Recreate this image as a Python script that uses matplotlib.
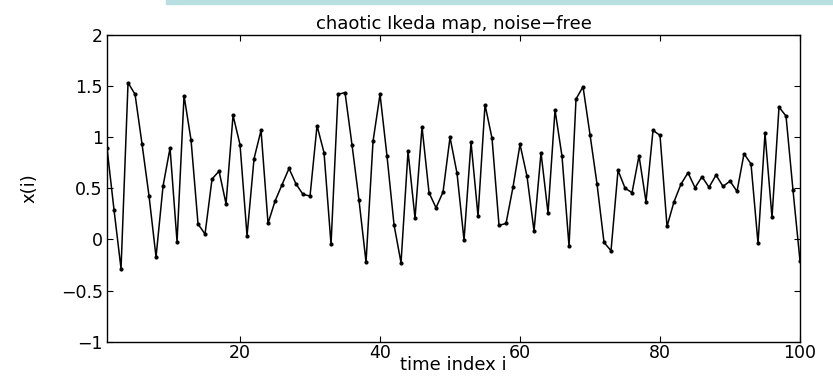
import matplotlib
matplotlib.use("Agg")
import matplotlib.pyplot as plt
from matplotlib.patches import Rectangle

plt.rcParams['font.family'] = ['DejaVu Sans']

# time index and Ikeda x-values
time_index = list(range(1, 101))
x_values = [
    0.891, 0.288, -0.286, 1.533, 1.420, 0.933, 0.425, -0.172, 0.522, 0.894,
    -0.022, 1.406, 0.973, 0.151, 0.053, 0.591, 0.669, 0.349, 1.214, 0.927,
    0.036, 0.790, 1.067, 0.157, 0.375, 0.536, 0.695, 0.542, 0.441, 0.425,
    1.113, 0.849, -0.048, 1.420, 1.436, 0.924, 0.382, -0.221, 0.960, 1.420,
    0.813, 0.144, -0.228, 0.862, 0.209, 1.100, 0.457, 0.310, 0.464, 0.999,
    0.647, -0.006, 0.950, 0.229, 1.318, 0.989, 0.138, 0.157, 0.513, 0.930,
    0.617, 0.082, 0.849, 0.258, 1.266, 0.813, -0.065, 1.374, 1.494, 1.025,
    0.542, -0.029, -0.110, 0.676, 0.503, 0.457, 0.819, 0.369, 1.067, 1.018,
    0.128, 0.369, 0.542, 0.653, 0.506, 0.614, 0.510, 0.630, 0.519, 0.571,
    0.470, 0.839, 0.738, -0.038, 1.038, 0.216, 1.295, 1.207, 0.480, -0.211,
]
x_ticks = [20, 40, 60, 80, 100]
y_ticks = [-1, -0.5, 0, 0.5, 1, 1.5, 2]
y_ticklabels = ['\u22121', '\u22120.5', '0', '0.5', '1', '1.5', '2']

fig = plt.figure(figsize=(8.33, 3.77), dpi=100)
ax = fig.add_axes([0.1285, 0.0936, 0.8319, 0.8136])

# light strip at the very top (screenshot leftover)
fig.patches.append(Rectangle((166 / 833, 1 - 4 / 377), 1 - 166 / 833, 4 / 377,
                             transform=fig.transFigure, color='#b9e0e0', zorder=0))

ax.plot(time_index, x_values, color='black', linewidth=1.1,
        marker='.', markersize=4)

ax.set_xlim(1, 100)
ax.set_ylim(-1, 2)
ax.set_xticks(x_ticks)
ax.set_yticks(y_ticks)
ax.set_yticklabels(y_ticklabels)
ax.tick_params(direction='in', top=True, right=True, length=4, width=0.8,
               labelsize=12.5, pad=3)
ax.tick_params(axis='x', pad=2)
for s in ax.spines.values():
    s.set_linewidth(1.0)

ax.set_title('chaotic Ikeda map, noise\u2212free', fontsize=13, pad=4)
ax.set_xlabel('time index i', fontsize=13, labelpad=-5)
ax.set_ylabel('x(i)', fontsize=13, labelpad=16)

fig.savefig('out.png', dpi=100)
